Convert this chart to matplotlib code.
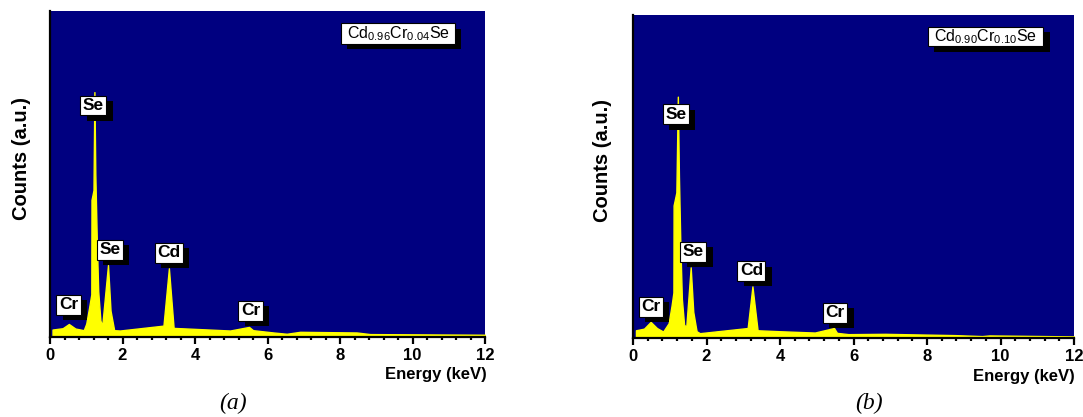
import matplotlib
matplotlib.use("Agg")
import matplotlib.pyplot as plt
from matplotlib.patches import Rectangle
from matplotlib.ticker import MultipleLocator
import matplotlib.patheffects as pe

plt.rcParams["font.family"] = ["Liberation Sans", "DejaVu Sans"]
plt.rcParams["mathtext.default"] = "regular"

# EDX spectrum, sample (a): energy (keV) and counts (a.u., 0-100 scale)
energy_a = [0.07, 0.35, 0.52, 0.70, 0.93, 1.00, 1.08, 1.14, 1.145, 1.20, 1.225,
            1.25, 1.29, 1.33, 1.39, 1.44, 1.60, 1.67, 1.77, 1.93, 3.13, 3.28,
            3.41, 4.00, 4.97, 5.49, 5.60, 6.16, 6.53, 6.90, 8.46, 8.83, 12.0]
counts_a = [2.2, 2.6, 3.9, 2.5, 2.0, 4.0, 9.0, 13.0, 42.0, 45.0, 75.1,
            50.0, 30.0, 14.0, 5.0, 3.3, 22.0, 8.0, 2.0, 1.9, 3.4, 21.0,
            2.7, 2.4, 1.9, 3.0, 2.0, 1.3, 0.9, 1.5, 1.3, 0.8, 0.6]

# EDX spectrum, sample (b)
energy_b = [0.08, 0.30, 0.48, 0.65, 0.82, 0.97, 1.05, 1.10, 1.105, 1.18, 1.22,
            1.25, 1.29, 1.33, 1.39, 1.45, 1.57, 1.64, 1.73, 1.82, 3.12, 3.25,
            3.39, 4.00, 4.95, 5.47, 5.55, 5.86, 6.86, 8.76, 9.50, 9.70, 12.0]
counts_b = [2.3, 2.8, 4.9, 3.0, 1.9, 4.5, 10.0, 14.0, 41.0, 45.0, 74.7,
            50.0, 28.0, 12.0, 4.0, 3.4, 21.8, 8.0, 2.0, 1.4, 3.0, 15.9,
            2.3, 2.0, 1.6, 3.0, 1.5, 1.1, 1.2, 0.8, 0.5, 0.7, 0.4]

# Peak labels: element, energy position, height of label centre
labels_a = [("Se", 1.19, 71.0), ("Se", 1.65, 26.7), ("Cd", 3.27, 25.8),
            ("Cr", 0.51, 9.8), ("Cr", 5.53, 8.0)]
labels_b = [("Se", 1.17, 69.3), ("Se", 1.64, 26.6), ("Cd", 3.22, 20.7),
            ("Cr", 0.49, 9.6), ("Cr", 5.50, 7.7)]

samples = [r"Cd$_{0.96}$Cr$_{0.04}$Se", r"Cd$_{0.90}$Cr$_{0.10}$Se"]
captions = ["(a)", "(b)"]

NAVY = "#000080"
YELLOW = "#FFFF00"
shadow = [pe.SimplePatchShadow(offset=(4.6, -4.0), shadow_rgbFace="black", alpha=1.0),
          pe.Normal()]

fig = plt.figure(figsize=(10.83, 4.17), dpi=100)
W, H = 1083, 417

panels = [
    dict(box=(50, 11, 485, 336.7), energy=energy_a, counts=counts_a, labels=labels_a,
         legend=(0.669, 0.900, 0.931, 0.962), ylab=(21.7, 158), xlab=(487, 374),
         cap=(233, 403)),
    dict(box=(633, 15, 1074, 337.7), energy=energy_b, counts=counts_b, labels=labels_b,
         legend=(0.668, 0.904, 0.930, 0.964), ylab=(603, 160), xlab=(1075, 377),
         cap=(869, 403)),
]

for i, p in enumerate(panels):
    x0, y0, x1, y1 = p["box"]
    ax = fig.add_axes([x0 / W, 1 - y1 / H, (x1 - x0) / W, (y1 - y0) / H])
    ax.set_facecolor(NAVY)
    ax.fill_between(p["energy"], 0, p["counts"], color=YELLOW, edgecolor=YELLOW,
                    linewidth=1.0, zorder=2)
    ax.set_xlim(0, 12)
    ax.set_ylim(0, 100)
    ax.set_yticks([])
    ax.xaxis.set_major_locator(MultipleLocator(2))
    ax.xaxis.set_minor_locator(MultipleLocator(0.4))
    ax.tick_params(axis="x", which="major", direction="out", length=5, width=1.6,
                   pad=3, labelsize=12)
    ax.tick_params(axis="x", which="minor", direction="out", length=2.2, width=1.6)
    for lab in ax.get_xticklabels():
        lab.set_fontweight("bold")
    for side in ("top", "right"):
        ax.spines[side].set_visible(False)
    for side in ("left", "bottom"):
        ax.spines[side].set_linewidth(1.6)
        ax.spines[side].set_zorder(5)

    # peak labels in white boxes with a drop shadow
    for name, ex, hy in p["labels"]:
        t = ax.text(ex, hy, name, ha="center", va="center", fontsize=12.5,
                    fontweight="bold", color="black", zorder=6,
                    bbox=dict(boxstyle="square,pad=0.14", facecolor="white",
                              edgecolor="black", linewidth=0.8))
        t.get_bbox_patch().set_path_effects(shadow)

    # sample composition box
    lx0, ly0, lx1, ly1 = p["legend"]
    rect = Rectangle((lx0, ly0), lx1 - lx0, ly1 - ly0, transform=ax.transAxes,
                     facecolor="white", edgecolor="black", linewidth=0.8, zorder=6)
    rect.set_path_effects(shadow)
    ax.add_patch(rect)
    ax.text((lx0 + lx1) / 2, (ly0 + ly1) / 2, samples[i], transform=ax.transAxes,
            ha="center", va="center", fontsize=11.5, color="black", zorder=7)

    fig.text(p["ylab"][0] / W, 1 - p["ylab"][1] / H, "Counts (a.u.)", rotation=90,
             ha="center", va="center", fontsize=14.5, fontweight="bold")
    fig.text(p["xlab"][0] / W, 1 - p["xlab"][1] / H, "Energy (keV)",
             ha="right", va="center", fontsize=12, fontweight="bold")
    fig.text(p["cap"][0] / W, 1 - p["cap"][1] / H, captions[i], ha="center",
             va="center", fontsize=17, style="italic",
             family=["Liberation Serif", "DejaVu Serif"])

fig.savefig("out.png", dpi=100, facecolor="white")
